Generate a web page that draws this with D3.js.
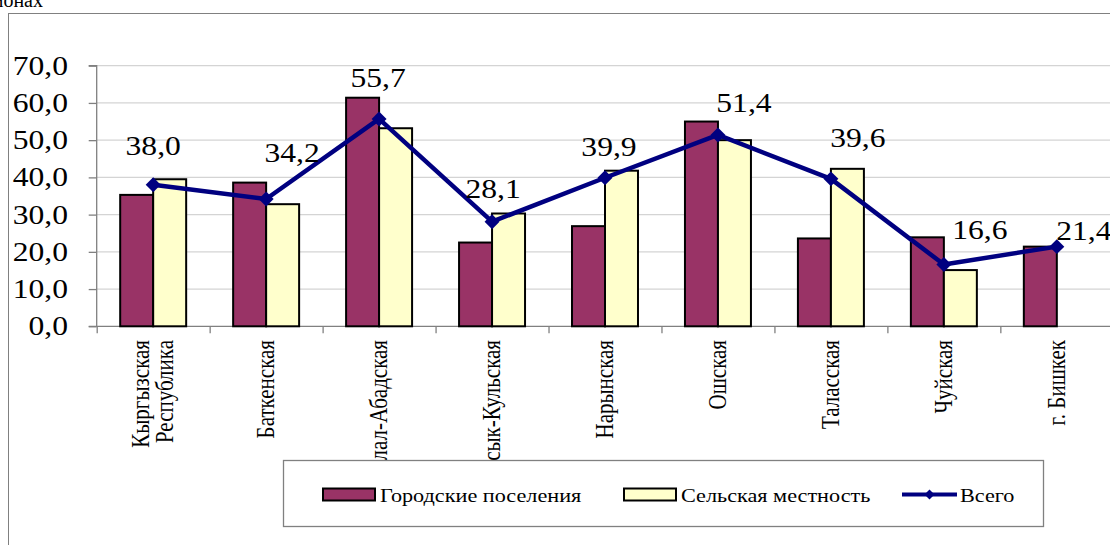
<!DOCTYPE html>
<html><head><meta charset="utf-8">
<script src="https://cdn.jsdelivr.net/npm/d3@7"></script>
<style>html,body{margin:0;padding:0;background:#fff;overflow:hidden}</style>
</head><body>
<svg id="c" width="1110" height="545" font-family="Liberation Serif"></svg>
<script>
const categories = [["Кыргызская","Республика"],["Баткенская"],["Жалал-Абадская"],["Иссык-Кульская"],["Нарынская"],["Ошская"],["Таласская"],["Чуйская"],["г. Бишкек"]];
const urban = [35.3, 38.6, 61.4, 22.5, 26.9, 55.0, 23.6, 23.9, 21.4];
const rural = [39.5, 32.8, 53.2, 30.3, 41.8, 50.0, 42.3, 15.1, null];
const total = [38.0, 34.2, 55.7, 28.1, 39.9, 51.4, 39.6, 16.6, 21.4];
const yTicks = [0,10,20,30,40,50,60,70];
const seriesNames = ["Городские поселения","Сельская местность","Всего"];
// label nudges (layout only)
const labelDx = [0, 26, -1, 1, 4, 26, 27, 36, 27];
const labelDy = [-30, -37, -32, -24, -22, -23, -32, -26, -7];

const SX = 1.17;
const svg = d3.select("#c");
const fmt = v => v.toFixed(1).replace(".", ",");

// header fragment & frame
svg.append("text").attr("x",43).attr("y",7).attr("text-anchor","end")
  .attr("font-size",20).text("районах");
svg.append("rect").attr("x",8.5).attr("y",13.5).attr("width",1200).attr("height",600)
  .attr("fill","none").attr("stroke","#808080").attr("stroke-width",1);

const idx = d3.range(categories.length);
const x0 = d3.scaleBand().domain(idx).range([96.7, 1113.3]).padding(0);
const x1 = d3.scaleBand().domain(["u","r"]).range([0, x0.bandwidth()]).paddingInner(0).paddingOuter(0.712);
const y = d3.scaleLinear().domain([0,70]).range([326.3, 65.7]);
const cx = i => x0(i) + x0.bandwidth()/2;

// gridlines
svg.append("g").selectAll("line").data(yTicks.filter(t=>t>0)).join("line")
  .attr("x1",96.7).attr("x2",1110).attr("y1",d=>y(d)).attr("y2",d=>y(d))
  .attr("stroke","#d4d4d4").attr("stroke-width",1.3);

// y axis
const yAxis = d3.axisLeft(y).tickValues(yTicks).tickSize(8).tickFormat("");
const gy = svg.append("g").attr("transform","translate(96.7,0)").call(yAxis);
gy.selectAll("path,line").attr("stroke","#808080").attr("stroke-width",1.3);
gy.select(".domain").attr("d", `M-8,${y(70)}H0V${y(0)}H-8`);
svg.append("g").selectAll("text").data(yTicks).join("text")
  .attr("transform", d=>`translate(68,${y(d)+9}) scale(${SX},1)`)
  .attr("text-anchor","end").attr("font-size",27)
  .text(d=>fmt(d));

// x axis
const xAxis = d3.axisBottom(d3.scaleLinear().domain([0,9]).range([96.7,1113.3]))
  .tickValues(d3.range(0,10)).tickSize(7).tickFormat("");
const gx = svg.append("g").attr("transform",`translate(0,${y(0)})`).call(xAxis);
gx.selectAll("path,line").attr("stroke","#808080").attr("stroke-width",1.3);
gx.select(".domain").attr("d","M96.7,0H1113.3");

// bars
const barData = [];
idx.forEach(i=>{
  barData.push({i, k:"u", v:urban[i], c:"#993366"});
  if (rural[i]!=null) barData.push({i, k:"r", v:rural[i], c:"#FFFFCC"});
});
svg.append("g").selectAll("rect").data(barData).join("rect")
  .attr("x",d=>x0(d.i)+x1(d.k)).attr("width",x1.bandwidth())
  .attr("y",d=>y(d.v)).attr("height",d=>y(0)-y(d.v))
  .attr("fill",d=>d.c).attr("stroke","#000").attr("stroke-width",2);

// x labels
const xl = svg.append("g");
idx.forEach(i=>{
  const lines = categories[i];
  const n = lines.length;
  lines.forEach((t,j)=>{
    const off = (j - (n-1)/2) * 24;
    xl.append("text")
      .attr("transform",`translate(${cx(i)+off},340) rotate(-90) scale(1,${SX})`)
      .attr("text-anchor","end").attr("dy","0.33em")
      .attr("font-size",21).text(t);
  });
});

// line
const line = d3.line().x((d,i)=>cx(i)).y(d=>y(d));
svg.append("path").datum(total).attr("d",line).attr("fill","none")
  .attr("stroke","#000080").attr("stroke-width",4.5).attr("stroke-linejoin","round");
const diamond = d3.symbol(d3.symbolSquare, 112);
svg.append("g").selectAll("path").data(total).join("path")
  .attr("transform",(d,i)=>`translate(${cx(i)},${y(d)}) rotate(45)`)
  .attr("d",diamond).attr("fill","#000080");
svg.append("g").selectAll("text").data(total).join("text")
  .attr("transform",(d,i)=>`translate(${cx(i)+labelDx[i]},${y(d)+labelDy[i]}) scale(${SX},1)`)
  .attr("text-anchor","middle").attr("font-size",27)
  .text(d=>fmt(d));

// legend
const lg = svg.append("g");
lg.append("rect").attr("x",283.5).attr("y",460.5).attr("width",760).attr("height",66)
  .attr("fill","#fff").attr("stroke","#808080").attr("stroke-width",1.3);
const legItems = [
  {x:323, tx:380, type:"bar", c:"#993366"},
  {x:624, tx:681, type:"bar", c:"#FFFFCC"},
  {x:902, tx:960, type:"line", c:"#000080"}
];
legItems.forEach((it,k)=>{
  if (it.type==="bar") {
    lg.append("rect").attr("x",it.x).attr("y",488.5).attr("width",52).attr("height",12)
      .attr("fill",it.c).attr("stroke","#000").attr("stroke-width",2);
  } else {
    lg.append("line").attr("x1",it.x).attr("x2",it.x+55).attr("y1",494.5).attr("y2",494.5)
      .attr("stroke",it.c).attr("stroke-width",4);
    lg.append("path").attr("transform",`translate(${it.x+27.5},494.5) rotate(45)`)
      .attr("d",d3.symbol(d3.symbolSquare,50)()).attr("fill",it.c);
  }
  lg.append("text").attr("transform",`translate(${it.tx},501.5) scale(${SX},1)`)
    .attr("font-size",19).text(seriesNames[k]);
});
</script>
</body></html>
